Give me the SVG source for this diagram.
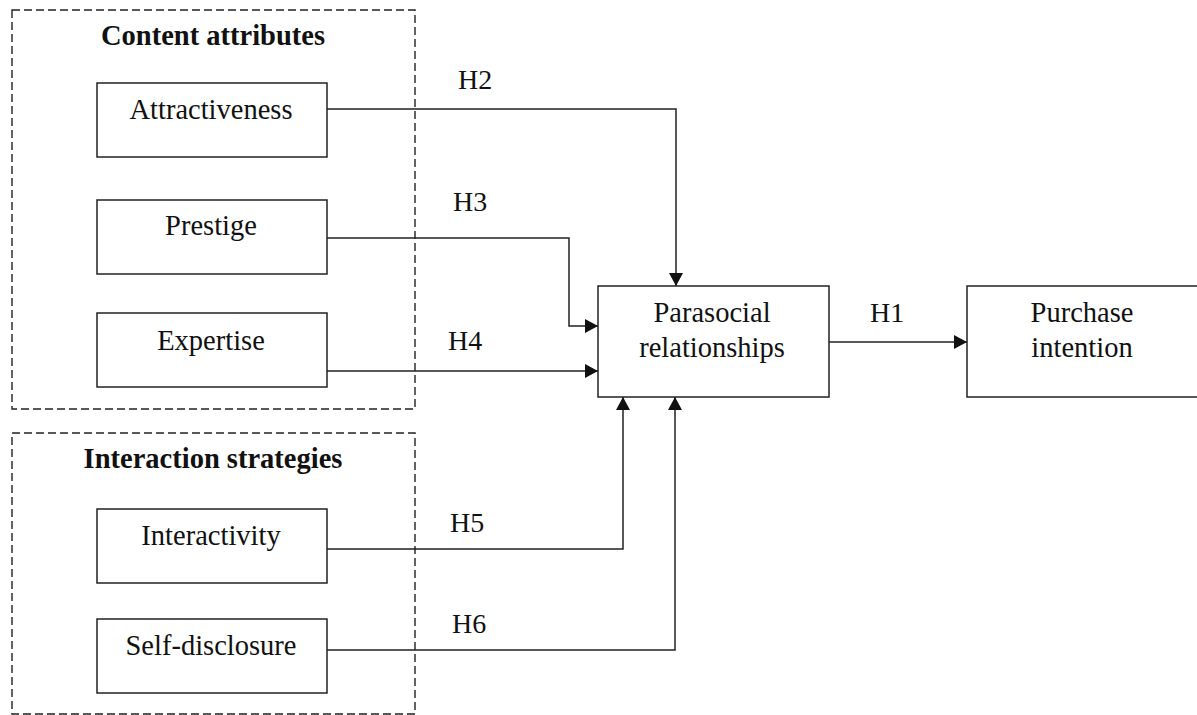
<svg xmlns="http://www.w3.org/2000/svg" width="1197" height="715" viewBox="0 0 1197 715">
<defs>
<style>
.grp{fill:none;stroke:#222;stroke-width:1.4;stroke-dasharray:8 4}
.box{fill:#fff;stroke:#222;stroke-width:1.5}
.t{font-family:"Liberation Serif","Times New Roman",serif;font-size:28.5px;fill:#111;text-anchor:middle}
.h{font-family:"Liberation Serif","Times New Roman",serif;font-size:28px;fill:#111}
.b{font-weight:bold}
.ln{fill:none;stroke:#222;stroke-width:1.5}
</style>
<marker id="arr" viewBox="0 0 13 14" refX="13" refY="7" markerWidth="13" markerHeight="14" markerUnits="userSpaceOnUse" orient="auto">
<path d="M0,0 L13,7 L0,14 Z" fill="#111"/>
</marker>
</defs>
<rect width="1197" height="715" fill="#fff"/>
<g id="group-content">
<rect class="grp" x="12" y="10" width="403" height="399"/>
<text class="t b" x="213" y="45">Content attributes</text>
</g>
<g id="group-interaction">
<rect class="grp" x="12" y="433" width="403" height="281"/>
<text class="t b" x="213" y="468">Interaction strategies</text>
</g>
<g id="connectors">
<polyline class="ln" points="327,109 676,109 676,286" marker-end="url(#arr)"/>
<polyline class="ln" points="327,238 569,238 569,326 598,326" marker-end="url(#arr)"/>
<polyline class="ln" points="327,371 598,371" marker-end="url(#arr)"/>
<polyline class="ln" points="327,549 623,549 623,397" marker-end="url(#arr)"/>
<polyline class="ln" points="327,650 675,650 675,397" marker-end="url(#arr)"/>
<polyline class="ln" points="829,342 967,342" marker-end="url(#arr)"/>
<text class="h" x="458" y="89">H2</text>
<text class="h" x="453" y="211">H3</text>
<text class="h" x="448" y="350">H4</text>
<text class="h" x="450" y="532">H5</text>
<text class="h" x="452" y="633">H6</text>
<text class="h" x="870" y="322">H1</text>
</g>
<g id="attractiveness">
<rect class="box" x="97" y="83" width="230" height="74"/>
<text class="t" x="211" y="119">Attractiveness</text>
</g>
<g id="prestige">
<rect class="box" x="97" y="200" width="230" height="74"/>
<text class="t" x="211" y="235">Prestige</text>
</g>
<g id="expertise">
<rect class="box" x="97" y="313" width="230" height="74"/>
<text class="t" x="211" y="350">Expertise</text>
</g>
<g id="interactivity">
<rect class="box" x="97" y="509" width="230" height="74"/>
<text class="t" x="211" y="545">Interactivity</text>
</g>
<g id="self-disclosure">
<rect class="box" x="97" y="619" width="230" height="74"/>
<text class="t" x="211" y="655">Self-disclosure</text>
</g>
<g id="parasocial">
<rect class="box" x="598" y="286" width="231" height="111"/>
<text class="t" x="712" y="322">Parasocial</text>
<text class="t" x="712" y="357">relationships</text>
</g>
<g id="purchase">
<rect class="box" x="967" y="286" width="240" height="111"/>
<text class="t" x="1082" y="322">Purchase</text>
<text class="t" x="1082" y="357">intention</text>
</g>
</svg>
